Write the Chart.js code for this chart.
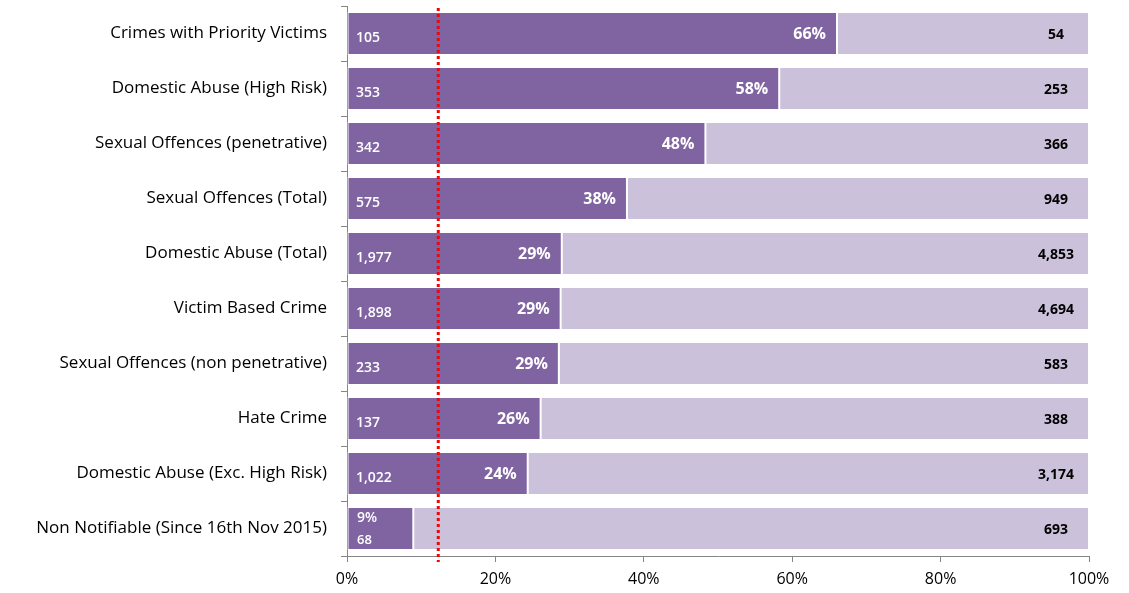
<!DOCTYPE html>
<html>
<head>
<meta charset="utf-8">
<script src="https://cdn.jsdelivr.net/npm/chart.js@4.4.1/dist/chart.umd.min.js"></script>
<style>
  html, body { margin: 0; padding: 0; background: #fff; }
  #wrap { width: 1129px; height: 593px; }
</style>
</head>
<body>
<div id="wrap"><canvas id="barChart"></canvas></div>
<script>
// categories, top to bottom
const categories = [
    "Crimes with Priority Victims",
    "Domestic Abuse (High Risk)",
    "Sexual Offences (penetrative)",
    "Sexual Offences (Total)",
    "Domestic Abuse (Total)",
    "Victim Based Crime",
    "Sexual Offences (non penetrative)",
    "Hate Crime",
    "Domestic Abuse (Exc. High Risk)",
    "Non Notifiable (Since 16th Nov 2015)",
];
// counts shown on the bars
const countsA = [105, 353, 342, 575, 1977, 1898, 233, 137, 1022, 68];
const countsB = [54, 253, 366, 949, 4853, 4694, 583, 388, 3174, 693];
const tickLabels = ["0%", "20%", "40%", "60%", "80%", "100%"];
const targetLine = 12.3;

const dark = "#8064A2";
const light = "#CCC1DA";
const font = "'Open Sans', Lato, sans-serif";

const shareA = countsA.map((a, i) => (a / (a + countsB[i])) * 100);
const shareB = shareA.map((s) => 100 - s);

const fmt = (n) => n.toLocaleString("en-GB");

const labelPlugin = {
    id: "barLabels",
    afterDatasetsDraw(chart) {
        const ctx = chart.ctx;
        const x = chart.scales.x;
        const metaA = chart.getDatasetMeta(0);
        ctx.save();
        ctx.textBaseline = "middle";
        metaA.data.forEach((bar, i) => {
            const y = bar.y;
            const left = x.getPixelForValue(0);
            const endA = x.getPixelForValue(shareA[i]);
            const pct = Math.round(shareA[i]) + "%";
            ctx.fillStyle = "#fff";
            if (shareA[i] < 15) {
                ctx.font = "600 14px " + font;
                ctx.textAlign = "left";
                ctx.fillText(pct, left + 10, y - 10);
                ctx.font = "600 13px " + font;
                ctx.fillText(fmt(countsA[i]), left + 10, y + 12);
            } else {
                ctx.font = "600 14px " + font;
                ctx.textAlign = "left";
                ctx.fillText(fmt(countsA[i]), left + 9, y + 5);
                ctx.font = "bold 16px " + font;
                ctx.textAlign = "right";
                ctx.fillText(pct, endA - 11, y + 1);
            }
            const right = x.getPixelForValue(100);
            ctx.fillStyle = "#000";
            ctx.font = "bold 14px " + font;
            ctx.textAlign = "center";
            ctx.fillText(fmt(countsB[i]), right - 33, y + 2);
        });
        // red dotted target line
        const tx = x.getPixelForValue(targetLine);
        ctx.strokeStyle = "#FF0000";
        ctx.lineWidth = 3;
        ctx.setLineDash([3, 3]);
        ctx.beginPath();
        ctx.moveTo(tx, chart.chartArea.top + 2);
        ctx.lineTo(tx, chart.chartArea.bottom + 6);
        ctx.stroke();
        ctx.restore();
    },
};

new Chart(document.getElementById("barChart"), {
    type: "bar",
    data: {
        labels: categories,
        datasets: [
            {
                label: "Outcome",
                data: shareA,
                backgroundColor: dark,
                borderColor: "#fff",
                borderWidth: 1,
                borderSkipped: false,
                categoryPercentage: 1,
                barPercentage: 0.78,
            },
            {
                label: "Remainder",
                data: shareB,
                backgroundColor: light,
                borderColor: "#fff",
                borderWidth: 1,
                borderSkipped: false,
                categoryPercentage: 1,
                barPercentage: 0.78,
            },
        ],
    },
    options: {
        indexAxis: "y",
        responsive: true,
        maintainAspectRatio: false,
        animation: false,
        layout: { padding: { top: 6, right: 40, left: 0, bottom: 0 } },
        plugins: {
            legend: { display: false },
            tooltip: { enabled: false },
        },
        scales: {
            x: {
                stacked: true,
                min: 0,
                max: 100,
                border: { color: "#868686", width: 1 },
                grid: {
                    drawOnChartArea: false,
                    tickLength: 6,
                    color: "#868686",
                },
                ticks: {
                    stepSize: 20,
                    color: "#000",
                    font: { family: font, size: 16 },
                    padding: 8,
                    callback: (v, i) => tickLabels[i],
                },
                afterFit: (scale) => { scale.height = 37; },
            },
            y: {
                stacked: true,
                border: { color: "#868686", width: 1 },
                grid: {
                    drawOnChartArea: false,
                    offset: true,
                    tickLength: 6,
                    color: "#868686",
                },
                ticks: {
                    color: "#000",
                    font: { family: font, size: 17 },
                    padding: 14,
                },
                afterFit: (scale) => {
                    scale.width = 347;
                    scale.paddingTop = 0;
                    scale.paddingBottom = 0;
                },
            },
        },
    },
    plugins: [labelPlugin],
});
</script>
</body>
</html>
